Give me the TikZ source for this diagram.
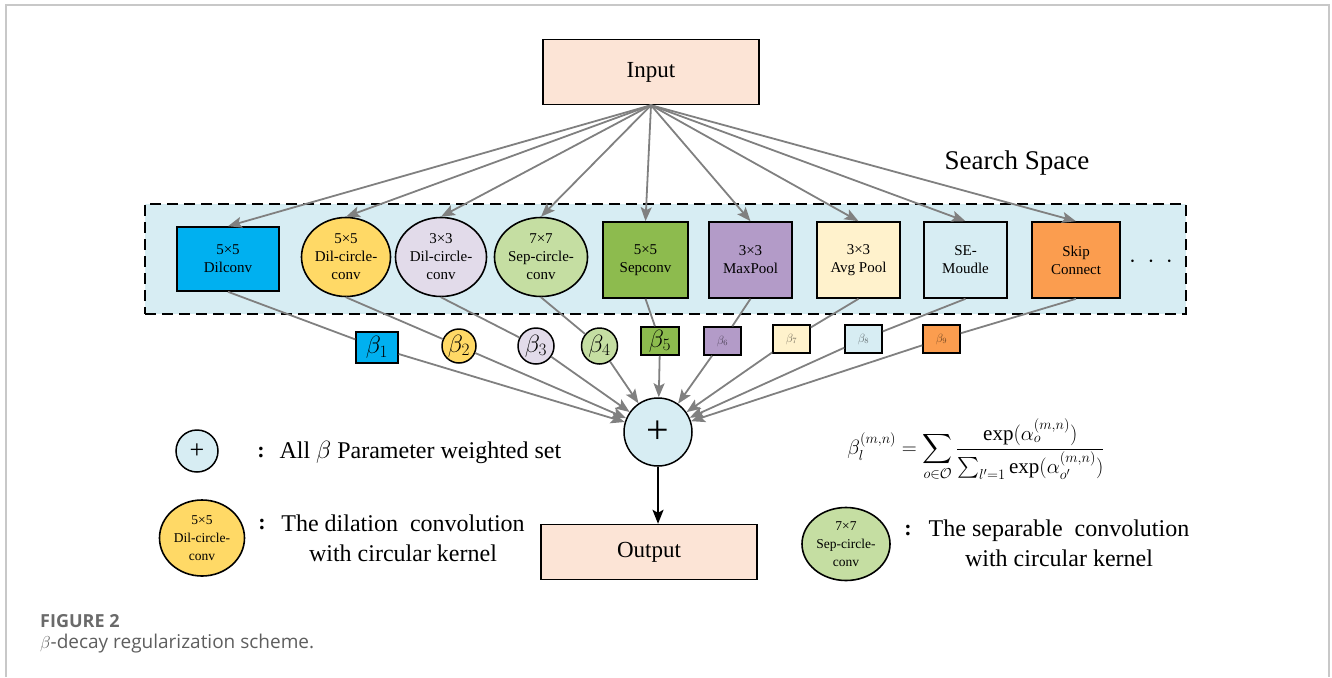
\documentclass[tikz,border=0pt]{standalone}
\usepackage{exscale}
\usepackage{fontspec}
\setmainfont{Liberation Serif}
\newfontfamily\capfont{Open Sans}
\usetikzlibrary{arrows.meta,shapes.geometric}
\definecolor{peach}{HTML}{FCE4D6}
\definecolor{ssblue}{HTML}{D7EDF3}
\definecolor{cdil}{HTML}{00B0F0}
\definecolor{cyel}{HTML}{FFD966}
\definecolor{clav}{HTML}{E2DBEA}
\definecolor{clgreen}{HTML}{C5DEA2}
\definecolor{cgreen}{HTML}{8DBB4E}
\definecolor{cpurple}{HTML}{B39BC8}
\definecolor{ccream}{HTML}{FFF2CC}
\definecolor{corange}{HTML}{FB9D4F}
\definecolor{linegrey}{HTML}{808080}
\definecolor{framegrey}{HTML}{C8C8C8}
\definecolor{capgrey}{HTML}{6A6A6A}
\definecolor{capgreyb}{HTML}{5E5E5E}
\tikzset{
  opbase/.style={draw=black, line width=1.6pt, inner sep=0pt, align=center, font=\fontsize{15}{18}\selectfont},
  oprect/.style={opbase, rectangle},
  opell/.style={opbase, ellipse},
  gline/.style={draw=linegrey, line width=1.8pt},
  garrow/.style={gline, -{Stealth[length=14pt,width=11pt,inset=3pt]}},
  bbox/.style={draw=black, line width=1.5pt, inner sep=0pt, font=\fontsize{24}{26}\selectfont},
  bsmall/.style={bbox, font=\fontsize{12}{14}\selectfont, text opacity=0.55},
  bigbox/.style={draw=black, line width=1.4pt, fill=peach, inner sep=0pt, font=\fontsize{23}{27}\selectfont},
  legtext/.style={font=\fontsize{24}{30}\selectfont, align=center},
  colon/.style={font=\bfseries\fontsize{22}{26}\selectfont},
}
\begin{document}
\begin{tikzpicture}[x=1pt,y=-1pt]
\useasboundingbox (0,0) rectangle (1332,677);
\draw[framegrey, line width=2pt] (6,677) -- (6,5) -- (1329,5) -- (1329,677);

% search space region
\node[draw=black, line width=2pt, dash pattern=on 11pt off 6pt, fill=ssblue, minimum width=1041pt, minimum height=110pt, inner sep=0pt] (ss) at (665.5,259) {};
\node[font=\fontsize{27}{32}\selectfont] (sstext) at (1017,163) {Search Space};

% input / output
\node[bigbox, minimum width=216pt, minimum height=65pt] (in) at (651,72) {Input};
\node[bigbox, minimum width=216pt, minimum height=55pt] (out) at (649,552) {Output};

% operations
\node[oprect, fill=cdil, minimum width=102pt, minimum height=64pt] (o1) at (228,259) {5×5\\Dilconv};
\node[opell, fill=cyel, minimum width=89pt, minimum height=79pt] (o2) at (346,257) {5×5\\Dil-circle-\\conv};
\node[opell, fill=clav, minimum width=91pt, minimum height=79pt] (o3) at (441,257) {3×3\\Dil-circle-\\conv};
\node[opell, fill=clgreen, minimum width=87pt, minimum height=79pt] (o4) at (541,257) {7×7\\Sep-circle-\\conv};
\node[oprect, fill=cgreen, minimum width=85pt, minimum height=76pt] (o5) at (645.5,260) {5×5\\Sepconv};
\node[oprect, fill=cpurple, minimum width=83pt, minimum height=76pt] (o6) at (750.5,260) {3×3\\MaxPool};
\node[oprect, fill=ccream, minimum width=83pt, minimum height=76pt] (o7) at (858.5,260) {3×3\\Avg Pool};
\node[oprect, fill=ssblue, minimum width=83pt, minimum height=76pt] (o8) at (965.5,260) {SE-\\Moudle};
\node[oprect, fill=corange, minimum width=88pt, minimum height=76pt] (o9) at (1076,260) {Skip\\Connect};
\node[font=\bfseries\fontsize{24}{24}\selectfont] (dots) at (1151,262) {$\cdot\ \cdot\ \cdot$};

% beta nodes
\node[bbox, rectangle, fill=cdil, minimum width=42pt, minimum height=31pt] (b1) at (377,347.5) {$\beta_1$};
\node[bbox, circle, fill=cyel, minimum size=34pt] (b2) at (459,346) {$\beta_2$};
\node[bbox, circle, fill=clav, minimum size=36pt] (b3) at (536,346) {$\beta_3$};
\node[bbox, circle, fill=clgreen, minimum size=36pt] (b4) at (599.5,346) {$\beta_4$};
\node[bbox, rectangle, fill=cgreen, minimum width=38pt, minimum height=28pt] (b5) at (660,341) {$\beta_5$};
\node[bsmall, rectangle, fill=cpurple, minimum width=37pt, minimum height=28pt] (b6) at (722.5,341) {$\beta_6$};
\node[bsmall, rectangle, fill=ccream, minimum width=37pt, minimum height=28pt] (b7) at (791.5,339) {$\beta_7$};
\node[bsmall, rectangle, fill=ssblue, minimum width=37pt, minimum height=28pt] (b8) at (863.5,339) {$\beta_8$};
\node[bsmall, rectangle, fill=corange, minimum width=37pt, minimum height=28pt] (b9) at (941.5,339) {$\beta_9$};

% sum node
\node[draw=black, line width=1.5pt, circle, fill=ssblue, minimum size=68pt, inner sep=0pt, font=\fontsize{40}{40}\selectfont] (plus) at (658,432) {+};

% input arrows
\foreach \t in {o1,o2,o3,o4,o5,o6,o7,o8,o9}
  \draw[garrow] (in.south) -- (\t.north);

% op -> beta -> plus
\foreach \o/\b in {o1/b1,o2/b2,o3/b3,o4/b4,o5/b5,o6/b6,o7/b7,o8/b8,o9/b9}{
  \draw[gline] (\o.south) -- (\b);
  \draw[garrow] (\b) -- (plus);
}

% plus -> output
\draw[black, line width=1.8pt, -{Stealth[length=14pt,width=11pt,inset=3pt]}] (plus.south) -- (plus.south |- out.north);

% formula
\node[font=\fontsize{21}{25}\selectfont] (formula) at (976,450)
  {$\displaystyle \beta_l^{(m,n)} = \sum_{o\in\mathcal{O}} \frac{\exp(\alpha_o^{(m,n)})}{\sum_{l'=1}\exp(\alpha_{o'}^{(m,n)})}$};

% legend
\node[draw=black, line width=1.5pt, circle, fill=ssblue, minimum size=42pt, inner sep=0pt, font=\fontsize{26}{26}\selectfont] (lplus) at (197,451) {+};
\node[colon] (c1) at (261,452) {:};
\node[legtext, anchor=west] (l1) at (276,452) {All $\beta$ Parameter weighted set};

\node[opell, fill=cyel, minimum width=85pt, minimum height=76pt, font=\fontsize{13.5}{18}\selectfont] (ly) at (202,538) {5×5\\Dil-circle-\\conv};
\node[colon] (c2) at (262,524) {:};
\node[legtext] (l2) at (403,538) {The dilation\ \ convolution\\with circular kernel};

\node[opell, fill=clgreen, minimum width=88pt, minimum height=73pt, font=\fontsize{13.5}{18}\selectfont] (lg) at (846,544) {7×7\\Sep-circle-\\conv};
\node[colon] (c3) at (908,530) {:};
\node[legtext] (l3) at (1059,543) {The separable\ \ convolution\\with circular kernel};

% caption
\node[anchor=base west, inner sep=0pt, font=\capfont\bfseries\fontsize{18}{22}\selectfont, text=capgrey] (fig) at (40,627) {FIGURE 2};
\node[anchor=base west, inner sep=0pt, font=\capfont\fontsize{19}{23}\selectfont, text=capgreyb] (cap) at (40,648) {$\beta$-decay regularization scheme.};
\end{tikzpicture}
\end{document}
